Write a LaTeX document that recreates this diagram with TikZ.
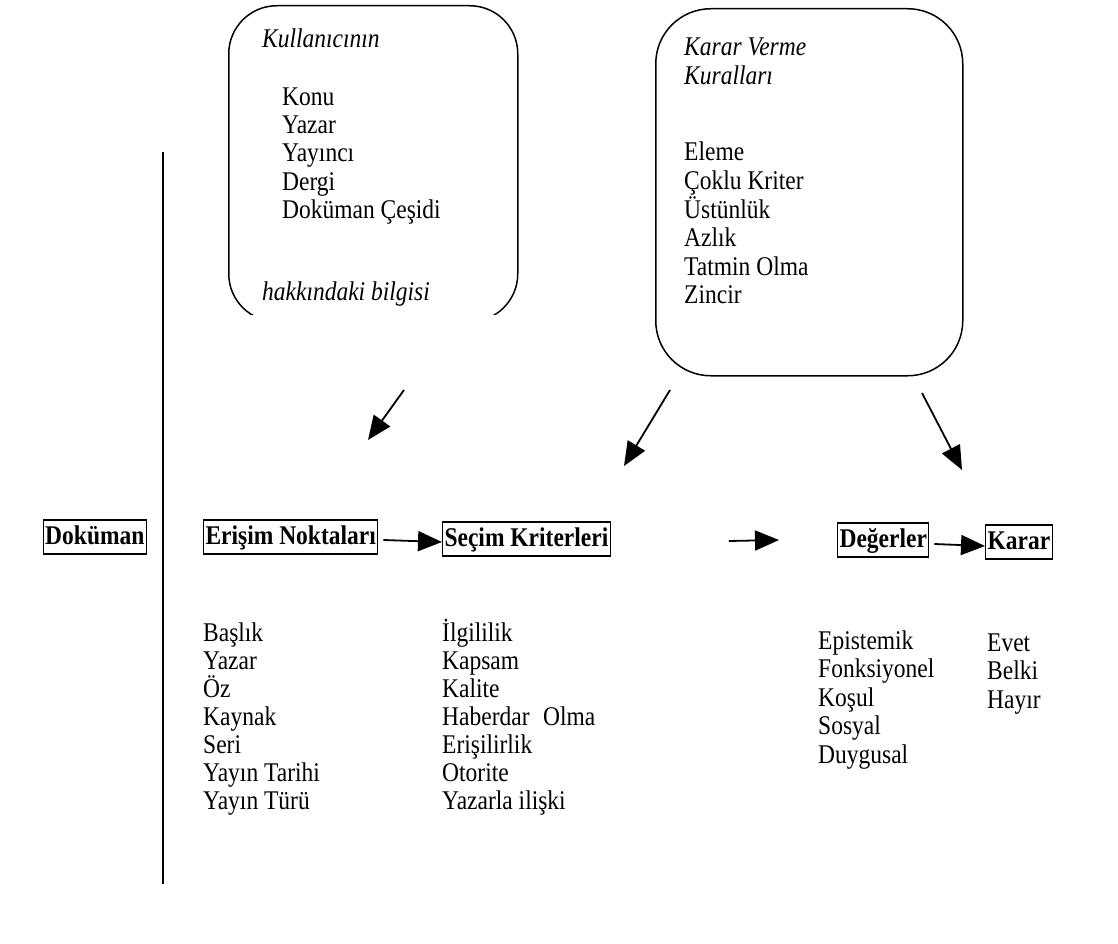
\documentclass[tikz,border=0pt]{standalone}
\usepackage{fontspec}
\setmainfont{Liberation Serif}[FakeStretch=0.87]
\usetikzlibrary{arrows.meta}
\begin{document}
\begin{tikzpicture}[x=1pt,y=-1pt,
  item/.style={font=\fontsize{27}{28}\selectfont, inner sep=0pt, anchor=base west},
  itit/.style={item, font=\itshape\fontsize{27}{28}\selectfont},
  hb/.style={draw, line width=1.1pt, font=\bfseries\fontsize{27}{28}\selectfont,
    inner xsep=2pt, inner ysep=3pt, text height=21pt, text depth=7pt, anchor=west},
  rbox/.style={draw, line width=1.5pt, anchor=north west},
  arr/.style={line width=1.8pt, -{Triangle[length=24pt,width=20pt]}}]
\useasboundingbox (0,0) rectangle (1118,944);

% left rounded box (bottom cut off)
\begin{scope}
  \clip (0,0) rectangle (1118,314);
  \node[rbox, rounded corners=48pt, minimum width=289pt, minimum height=316pt] (kb) at (228,5) {};
  \node[itit] (kb8) at (262,300) {hakkındaki bilgisi};
\end{scope}
\node[itit] (kb1) at (262,48) {Kullanıcının};
\foreach \t [count=\i] in {Konu, Yazar, Yayıncı, Dergi, Doküman Çeşidi}
  \node[item] (kbi\i) at (282,{106+28*(\i-1)}) {\t};

% right rounded box
\node[rbox, rounded corners=55pt, minimum width=307pt, minimum height=367pt] (rb) at (655,8) {};
\node[itit] (rb1) at (684,56) {Karar Verme};
\node[itit] (rb2) at (684,85) {Kuralları};
\foreach \t [count=\i] in {Eleme, Çoklu Kriter, Üstünlük, Azlık, Tatmin Olma, Zincir}
  \node[item] (rbi\i) at (684,{161+28.5*(\i-1)}) {\t};

% vertical line
\coordinate (vt) at (163,152);
\coordinate (vb) at (163,884);
\draw[line width=1.4pt] (vt) -- (vb);

% bold row
\node[hb, anchor=east] (dok) at (147,537) {Doküman};
\node[hb] (en) at (203,537) {Erişim Noktaları};
\node[hb] (sk) at (442,539) {Seçim Kriterleri};
\node[hb] (dg) at (837,540) {Değerler};
\node[hb] (kr) at (985,542) {Karar};

\draw[arr] ([xshift=5pt,yshift=-3pt]en.east) -- ([yshift=-3pt]sk.west);
\draw[arr] ([xshift=118pt,yshift=-2pt]sk.east) -- ([xshift=-58pt]dg.west);
\draw[arr] ([xshift=5pt,yshift=-4pt]dg.east) -- ([yshift=-4pt]kr.west);

% diagonal arrows
\coordinate (d1s) at (404,390); \coordinate (d1e) at (368,440);
\coordinate (d2s) at (670,390); \coordinate (d2e) at (624,466);
\coordinate (d3s) at (922,393); \coordinate (d3e) at (962,470);
\draw[arr] (d1s) -- (d1e);
\draw[arr] (d2s) -- (d2e);
\draw[arr] (d3s) -- (d3e);

% lists
\foreach \t [count=\i] in {Başlık, Yazar, Öz, Kaynak, Seri, Yayın Tarihi, Yayın Türü}
  \node[item] (eni\i) at (203,{641+28*(\i-1)}) {\t};
\foreach \t [count=\i] in {İlgililik, Kapsam, Kalite, {Haberdar\hspace{0.5em}Olma}, Erişilirlik, Otorite, Yazarla ilişki}
  \node[item] (ski\i) at (442,{641+28*(\i-1)}) {\t};
\foreach \t [count=\i] in {Epistemik, Fonksiyonel, Koşul, Sosyal, Duygusal}
  \node[item] (dgi\i) at (818,{649+28.5*(\i-1)}) {\t};
\foreach \t [count=\i] in {Evet, Belki, Hayır}
  \node[item] (kri\i) at (987,{651+28.5*(\i-1)}) {\t};
\end{tikzpicture}
\end{document}
